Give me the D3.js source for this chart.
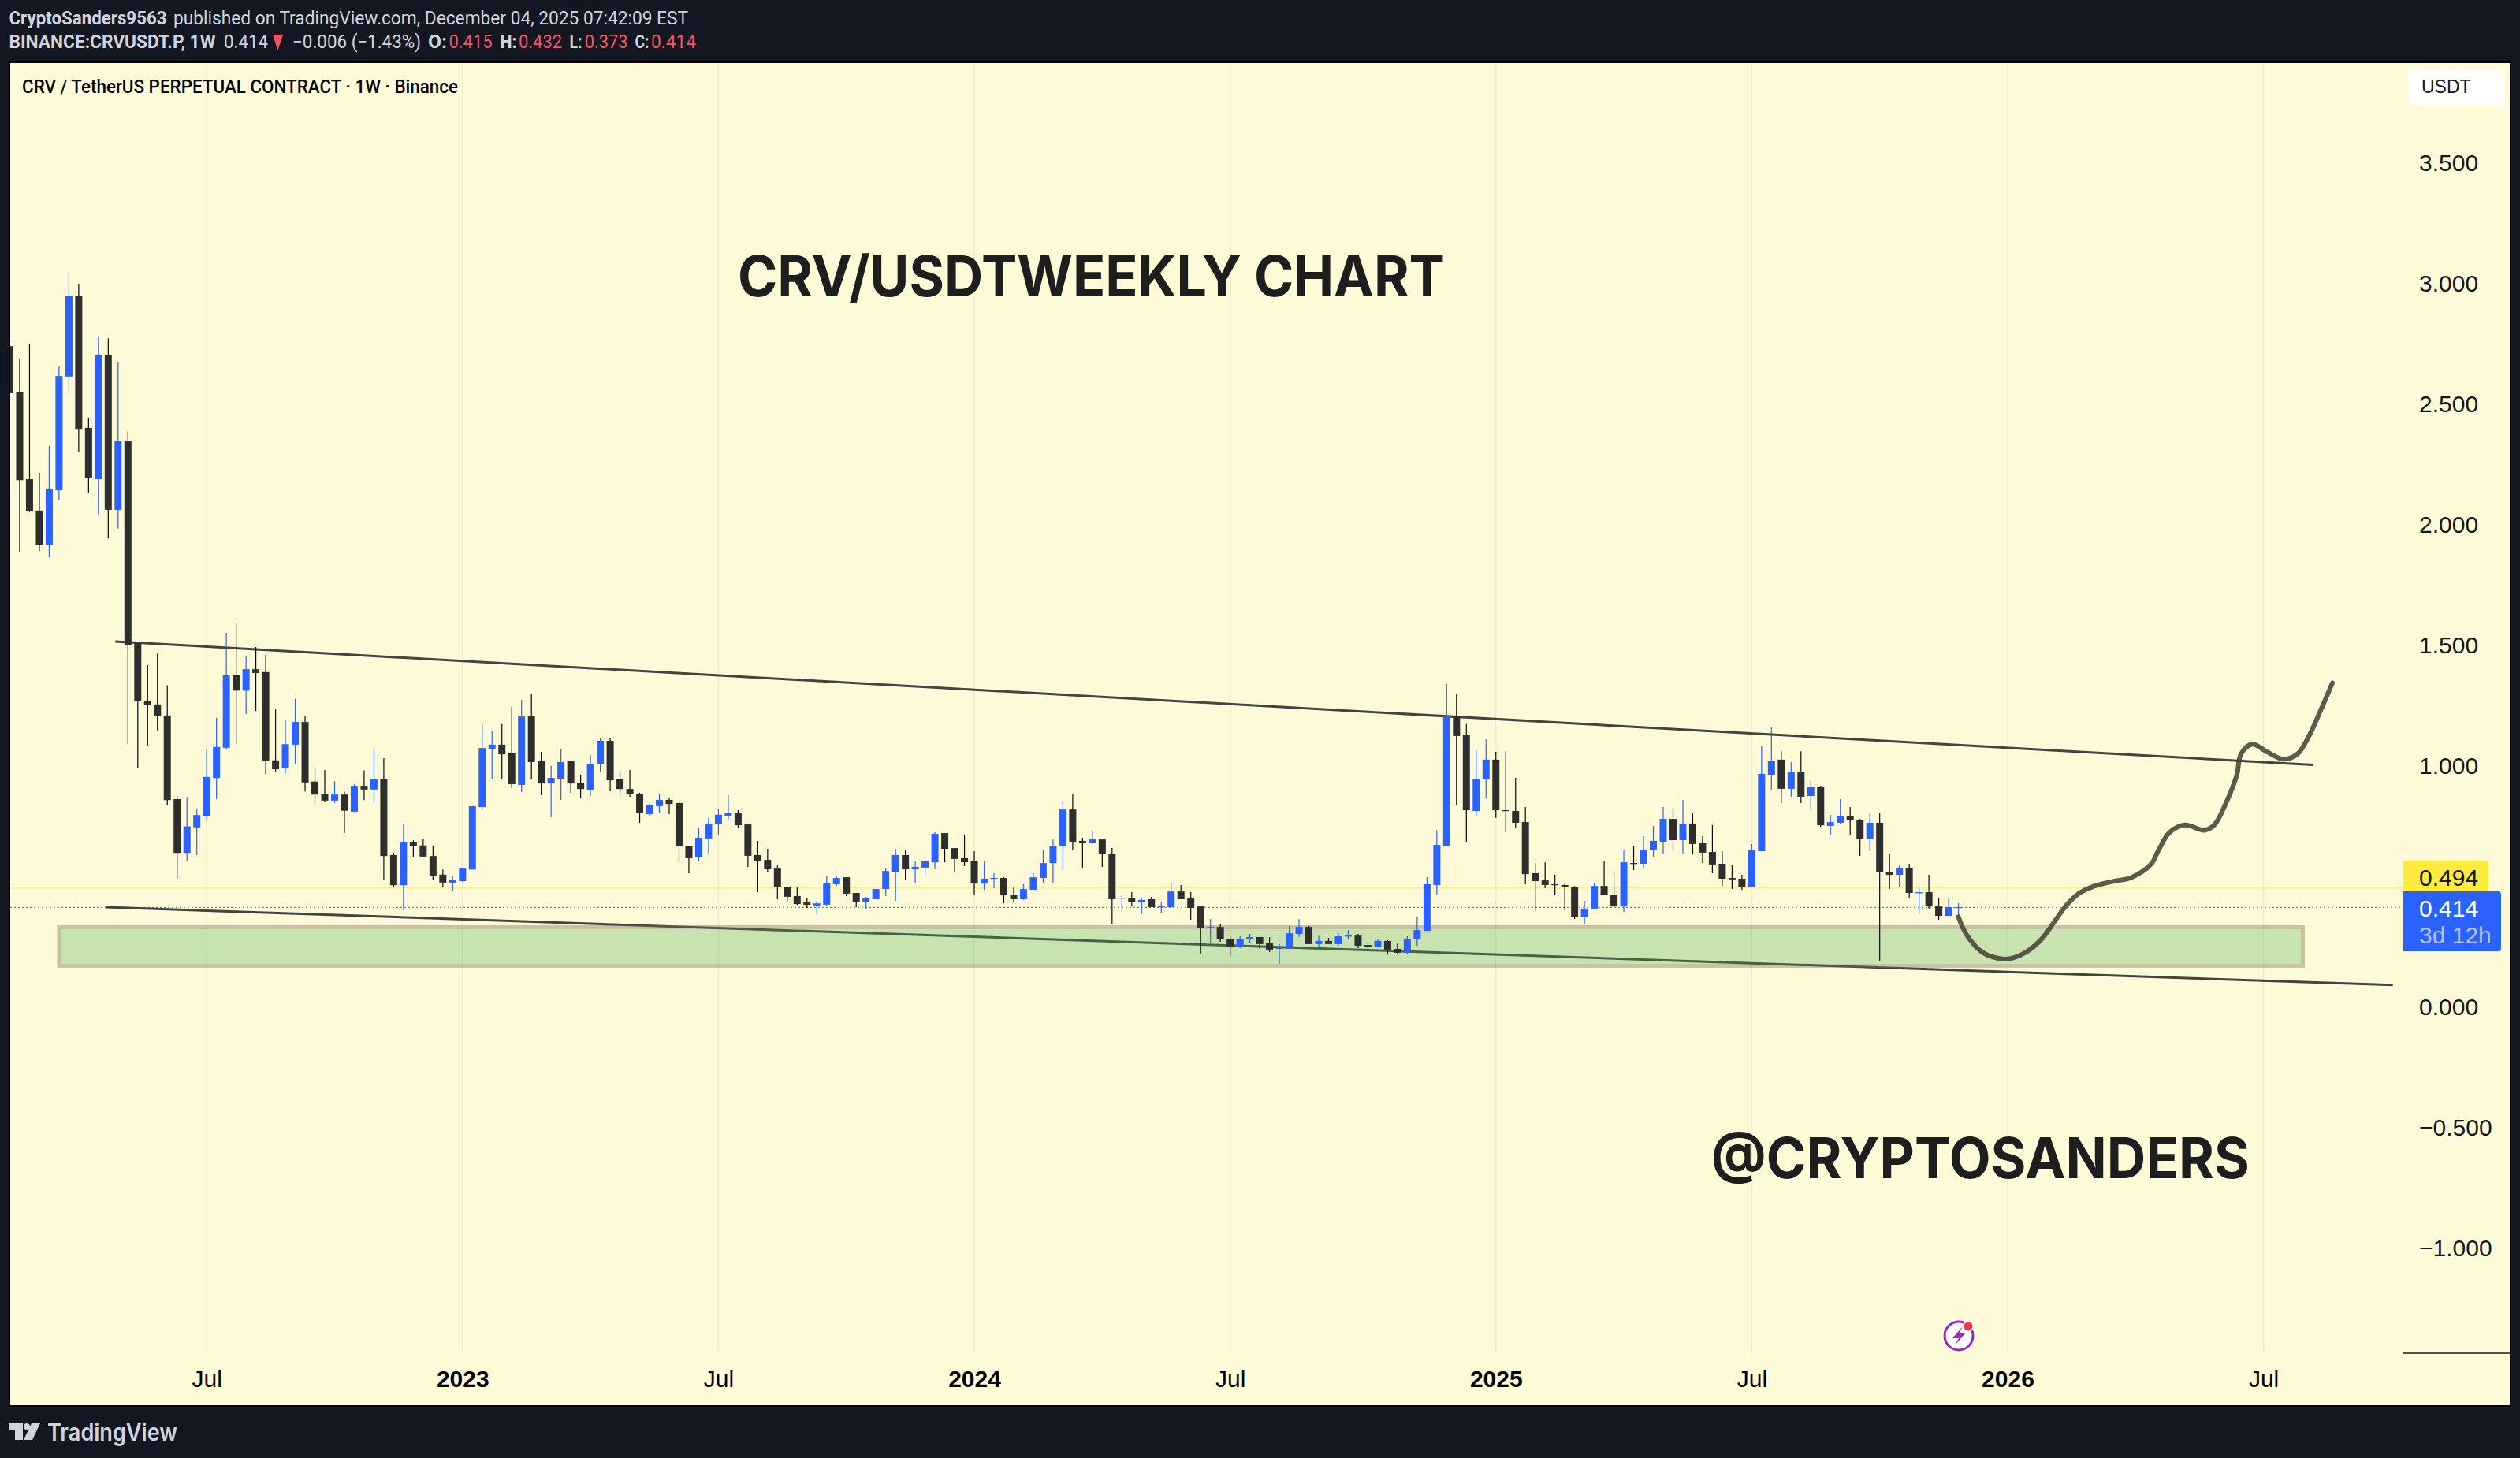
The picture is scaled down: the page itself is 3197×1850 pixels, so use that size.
<!DOCTYPE html>
<html>
<head>
<meta charset="utf-8">
<script src="https://cdn.jsdelivr.net/npm/d3@7"></script>
<style>
html, body { margin: 0; padding: 0; background: #131722; }
svg { display: block; }
text { font-family: "Liberation Sans", Arial, sans-serif; }
</style>
</head>
<body>
<div id="chart-area"></div>
<script>
// weekly candles, first bar is the week of 2022-02-14
var firstWeek = "2022-02-14"

var opens = [
	2.742,2.551,2.190,2.060,1.916,2.144,2.616,2.951,2.403,2.190,
	2.704,2.063,2.347,1.511,1.271,1.256,1.210,.863,.640,.746,
	.792,.951,1.076,1.377,1.313,1.402,1.390,1.024,.991,1.089,
	1.183,.936,.886,.857,.882,.811,.918,.903,.947,.631,
	.506,.686,.671,.627,.550,.517,.523,.571,.830,1.072,
	1.089,1.053,.922,1.206,1.020,.928,.948,1.020,.932,.902,
	1.007,1.105,.945,.905,.886,.801,.834,.860,.847,.670,
	.621,.700,.758,.794,.807,.758,.631,.611,.575,.500,
	.461,.435,.422,.425,.510,.539,.474,.438,.448,.490,
	.562,.631,.572,.579,.601,.722,.660,.618,.605,.513,
	.533,.536,.467,.448,.487,.536,.598,.667,.820,.690,
	.680,.696,.637,.451,.451,.435,.448,.415,.415,.480,
	.451,.418,.327,.333,.284,.252,.281,.291,.265,.242,
	.242,.304,.333,.262,.275,.262,.294,.297,.258,.252,
	.275,.242,.226,.281,.317,.507,.670,1.206,1.131,.814,
	.945,1.027,.817,.814,.768,.556,.526,.510,.507,.500,
	.373,.409,.503,.467,.418,.598,.595,.651,.686,.781,
	.693,.762,.680,.644,.595,.536,.533,.497,.647,.964,
	1.027,.906,.974,.876,.912,.752,.765,.791,.778,.699,
	.765,.562,.549,.579,.474,.477,.418,.379,.412]

var highs = [
	2.742,2.691,2.752,2.217,2.328,2.658,3.053,3.001,2.445,2.783,
	2.775,2.677,2.389,1.511,1.419,1.467,1.335,.876,.872,.824,
	1.072,1.200,1.553,1.590,1.455,1.494,1.461,1.239,1.191,1.279,
	1.206,.991,.983,.937,.893,.924,.982,1.070,1.033,.640,
	.759,.692,.696,.671,.571,.542,.575,.834,1.174,1.147,
	1.174,1.245,1.275,1.301,1.059,1.000,1.069,1.023,.964,1.046,
	1.115,1.115,.977,.984,.889,.843,.886,.866,.850,.670,
	.742,.785,.824,.879,.817,.762,.690,.657,.588,.500,
	.500,.451,.441,.543,.546,.539,.474,.458,.490,.578,
	.657,.650,.608,.614,.726,.722,.660,.713,.647,.605,
	.556,.539,.500,.510,.556,.650,.696,.850,.883,.703,
	.729,.696,.660,.464,.477,.451,.458,.438,.516,.507,
	.477,.422,.366,.346,.294,.294,.304,.291,.291,.262,
	.337,.366,.337,.297,.288,.307,.320,.304,.268,.284,
	.278,.268,.294,.376,.539,.735,1.340,1.301,1.174,1.066,
	1.111,1.059,1.062,.951,.830,.598,.601,.549,.516,.503,
	.441,.516,.608,.559,.654,.667,.709,.752,.830,.827,
	.860,.807,.709,.755,.647,.592,.549,.677,1.082,1.164,
	1.062,1.017,1.062,.941,.919,.798,.863,.830,.781,.804,
	.807,.637,.588,.595,.503,.549,.451,.451,.432]

var lows = [
	2.547,1.889,2.054,1.893,1.866,2.102,2.541,2.305,2.134,2.042,
	1.944,1.985,1.091,.993,1.085,1.145,.840,.533,.606,.631,
	.774,.863,1.072,1.091,1.216,1.229,.968,.974,.970,1.010,
	.895,.838,.853,.847,.723,.809,.859,.849,.527,.500,
	.402,.621,.621,.529,.500,.483,.519,.571,.824,.948,
	.945,.909,.892,.948,.879,.788,.860,.889,.869,.876,
	.977,.896,.876,.873,.765,.794,.807,.801,.601,.556,
	.608,.634,.713,.775,.742,.582,.477,.562,.448,.438,
	.425,.412,.386,.422,.503,.461,.415,.409,.448,.461,
	.441,.529,.513,.543,.572,.601,.562,.585,.467,.487,
	.494,.431,.435,.445,.487,.513,.513,.569,.654,.575,
	.677,.582,.343,.395,.418,.386,.415,.392,.415,.448,
	.363,.219,.265,.271,.209,.245,.268,.242,.229,.180,
	.242,.291,.262,.248,.262,.255,.284,.245,.242,.248,
	.222,.219,.219,.255,.317,.467,.670,.840,.686,.794,
	.866,.785,.726,.745,.510,.399,.494,.467,.402,.366,
	.346,.409,.464,.415,.395,.569,.575,.621,.637,.647,
	.634,.637,.598,.556,.503,.490,.487,.497,.647,.902,
	.847,.873,.847,.817,.749,.716,.758,.713,.628,.654,
	.190,.490,.500,.454,.386,.409,.363,.379,.373]

var closes = [
	2.547,2.186,2.056,1.916,2.148,2.618,2.951,2.399,2.194,2.704,
	2.063,2.347,1.503,1.269,1.252,1.206,.859,.640,.750,.797,
	.955,1.079,1.377,1.313,1.402,1.386,1.020,.987,1.091,1.183,
	.932,.882,.857,.882,.815,.918,.903,.947,.627,.506,
	.686,.667,.625,.546,.517,.527,.575,.834,1.075,1.089,
	1.049,.925,1.206,1.017,.928,.951,1.017,.928,.905,1.010,
	1.105,.941,.905,.883,.804,.837,.860,.843,.667,.618,
	.703,.762,.798,.807,.755,.628,.608,.572,.497,.458,
	.428,.425,.431,.513,.536,.471,.435,.451,.490,.565,
	.631,.572,.582,.605,.719,.657,.615,.601,.513,.533,
	.536,.464,.448,.490,.539,.598,.670,.820,.686,.680,
	.696,.634,.448,.454,.435,.445,.415,.418,.480,.448,
	.412,.327,.333,.281,.252,.284,.291,.262,.239,.248,
	.307,.333,.262,.275,.262,.294,.297,.255,.252,.275,
	.239,.226,.284,.320,.510,.673,1.206,1.125,.817,.948,
	1.027,.817,.814,.765,.552,.523,.507,.507,.497,.373,
	.409,.503,.464,.418,.601,.595,.654,.690,.781,.693,
	.762,.677,.641,.592,.533,.530,.497,.651,.968,1.023,
	.906,.974,.873,.912,.755,.768,.791,.775,.699,.765,
	.559,.549,.579,.474,.477,.418,.379,.415,.415]

var priceTicks = [3.5, 3, 2.5, 2, 1.5, 1, 0, -0.5, -1]
var timeTicks = ["2022-07-04","2023-01-02","2023-07-03","2024-01-01","2024-07-01","2025-01-06","2025-07-07","2026-01-05","2026-07-06"]
var timeLabels = ["Jul","2023","Jul","2024","Jul","2025","Jul","2026","Jul"]

var lastPrice = 0.414
var levelPrice = 0.494

// drawings on the chart
var upperDates = ["2022-04-30", "2026-08-10"]
var upperPrices = [1.517, 1.005]
var lowerDates = ["2022-04-23", "2026-10-06"]
var lowerPrices = [0.415, 0.092]
var boxDates = ["2022-03-21", "2026-08-03"]
var boxPrices = [0.332, 0.172]

// hand drawn projection, days counted from 2026-01-05
var sketchDays = [-35,-32,-27,-18,-9,0,13,25,33,42,51,62,75,88,102,107,115,126,140,147,155,163,166,174,184,196,206,214,223,231]
var sketchPrices = [.375,.331,.282,.228,.206,.200,.228,.288,.353,.424,.473,.503,.522,.538,.593,.647,.724,.756,.734,.756,.843,.963,1.050,1.091,1.061,1.029,1.050,1.121,1.236,1.345]

var canvasWidth = 3197
var canvasHeight = 1850
var plot = {left: 13, right: 3184, top: 80, bottom: 1783, axisX: 3048, axisY: 1717}

var bg = "#fefad8"
var blue = "#2962ff"
var bodyDark = "#2e2e2e"
var wickDark = "#0a0a0a"

var parseDate = d3.utcParse("%Y-%m-%d")

var x = d3.scaleUtc()
	.domain([parseDate("2023-01-02"), parseDate("2026-07-06")])
	.range([586.8, 2871.6])

var y = d3.scaleLinear()
	.domain([0, 3.5])
	.range([1278, 207.35])

var candles = opens.map(function(o, i) {
	return {
		date: d3.utcDay.offset(parseDate(firstWeek), i * 7),
		open: o,
		high: highs[i],
		low: lows[i],
		close: closes[i]
	}
})

var svg = d3.select("#chart-area")
	.append("svg")
	.attr("width", canvasWidth)
	.attr("height", canvasHeight)

svg.append("rect").attr("width", canvasWidth).attr("height", canvasHeight).attr("fill", "#131722")

// black frame and chart background
svg.append("rect")
	.attr("x", plot.left - 2).attr("y", plot.top - 2)
	.attr("width", plot.right - plot.left + 4).attr("height", plot.bottom - plot.top + 4)
	.attr("fill", "#000")
svg.append("rect")
	.attr("x", plot.left).attr("y", plot.top)
	.attr("width", plot.right - plot.left).attr("height", plot.bottom - plot.top)
	.attr("fill", bg)

svg.append("clipPath").attr("id", "pane")
	.append("rect")
	.attr("x", plot.left).attr("y", plot.top)
	.attr("width", plot.axisX - plot.left).attr("height", plot.axisY - plot.top)

var pane = svg.append("g").attr("clip-path", "url(#pane)")

// vertical grid
pane.selectAll(".grid")
	.data(timeTicks)
	.enter().append("line")
		.attr("class", "grid")
		.attr("x1", function(d) { return x(parseDate(d)) })
		.attr("x2", function(d) { return x(parseDate(d)) })
		.attr("y1", plot.top)
		.attr("y2", plot.axisY)
		.attr("stroke", "#2a2e39")
		.attr("stroke-opacity", 0.08)
		.attr("stroke-width", 1.5)

// 0.494 level and last price line
pane.append("line")
	.attr("x1", plot.left).attr("x2", plot.axisX)
	.attr("y1", y(levelPrice)).attr("y2", y(levelPrice))
	.attr("stroke", "#ffe94a")
	.attr("stroke-width", 1)
pane.append("line")
	.attr("x1", plot.left).attr("x2", plot.axisX)
	.attr("y1", y(lastPrice)).attr("y2", y(lastPrice))
	.attr("stroke", blue)
	.attr("stroke-width", 1)
	.attr("stroke-dasharray", "2,3")

// trend lines sit under the box
var trend = d3.line()
	.x(function(d) { return x(parseDate(d[0])) })
	.y(function(d) { return y(d[1]) })

pane.append("path")
	.attr("d", trend(d3.zip(upperDates, upperPrices)))
	.attr("fill", "none").attr("stroke", "#434343").attr("stroke-width", 3)
pane.append("path")
	.attr("d", trend(d3.zip(lowerDates, lowerPrices)))
	.attr("fill", "none").attr("stroke", "#434343").attr("stroke-width", 3)

// green box, the fill stops inside the tan border
var boxX = x(parseDate(boxDates[0]))
var boxW = x(parseDate(boxDates[1])) - boxX
var boxY = y(boxPrices[0])
var boxH = y(boxPrices[1]) - boxY

pane.append("rect")
	.attr("x", boxX + 2.5).attr("y", boxY + 2.5)
	.attr("width", boxW - 5).attr("height", boxH - 5)
	.attr("fill", "#4caf50")
	.attr("fill-opacity", 0.3)
pane.append("rect")
	.attr("x", boxX).attr("y", boxY)
	.attr("width", boxW).attr("height", boxH)
	.attr("fill", "none")
	.attr("stroke", "#776e56")
	.attr("stroke-opacity", 0.4)
	.attr("stroke-width", 5)

// candles
var bars = pane.append("g").attr("class", "candles")

bars.selectAll(".wick")
	.data(candles)
	.enter().append("line")
		.attr("class", "wick")
		.attr("x1", function(d) { return x(d.date) })
		.attr("x2", function(d) { return x(d.date) })
		.attr("y1", function(d) { return y(d.high) })
		.attr("y2", function(d) { return y(d.low) })
		.attr("stroke", function(d) { return d.close >= d.open ? blue : wickDark })
		.attr("stroke-width", 1.2)

bars.selectAll(".body")
	.data(candles)
	.enter().append("rect")
		.attr("class", "body")
		.attr("x", function(d) { return x(d.date) - 4.5 })
		.attr("width", 9)
		.attr("y", function(d) { return y(Math.max(d.open, d.close)) })
		.attr("height", function(d) { return Math.max(1.2, Math.abs(y(d.open) - y(d.close))) })
		.attr("fill", function(d) { return d.close >= d.open ? blue : bodyDark })

// projection drawn with the brush
var sketch = d3.line()
	.x(function(d) { return x(d3.utcDay.offset(parseDate("2026-01-05"), d[0])) })
	.y(function(d) { return y(d[1]) })
	.curve(d3.curveCatmullRom)

pane.append("path")
	.attr("d", sketch(d3.zip(sketchDays, sketchPrices)))
	.attr("fill", "none")
	.attr("stroke", "#3f3e30")
	.attr("stroke-opacity", 0.85)
	.attr("stroke-width", 6)
	.attr("stroke-linecap", "round")

// axes
var xAxis = d3.axisBottom(x)
	.tickValues(timeTicks.map(parseDate))
	.tickFormat(function(d, i) { return timeLabels[i] })
	.tickSize(0)
	.tickPadding(0)

var gx = svg.append("g")
	.attr("transform", "translate(0," + 1749.5 + ")")
	.call(xAxis)
gx.select(".domain").remove()
gx.selectAll("text")
	.attr("y", 0)
	.attr("dy", "0.35em")
	.style("font-family", "'Liberation Sans', sans-serif")
	.style("font-size", "30px")
	.style("font-weight", function(d, i) { return timeLabels[i] == "Jul" ? "normal" : "bold" })
	.attr("fill", "#000")

var yAxis = d3.axisRight(y)
	.tickValues(priceTicks)
	.tickFormat(function(d) { return d3.format(".3f")(d).replace("-", "\u2212") })
	.tickSize(0)
	.tickPadding(21)

var gy = svg.append("g")
	.attr("transform", "translate(" + plot.axisX + ",0)")
	.call(yAxis)
gy.select(".domain").remove()
gy.selectAll("text")
	.attr("dy", "0.32em")
	.style("font-family", "'Liberation Sans', sans-serif")
	.style("font-size", "30px")
	.attr("fill", "#131722")

svg.append("line")
	.attr("x1", plot.axisX).attr("x2", plot.right)
	.attr("y1", plot.axisY).attr("y2", plot.axisY)
	.attr("stroke", "#131722").attr("stroke-width", 1.5)

// price tags on the axis
svg.append("path")
	.attr("d", "M3049,1092H3153q4,0 4,4V1132H3049Z")
	.attr("fill", "#ffeb3b")
svg.append("text")
	.attr("x", 3069).attr("y", 1113).attr("dy", "0.35em")
	.attr("font-size", 30).attr("fill", "#131722")
	.text(d3.format(".3f")(levelPrice))
svg.append("path")
	.attr("d", "M3049,1131H3169q4,0 4,4V1203q0,4 -4,4H3049Z")
	.attr("fill", blue)
svg.append("text")
	.attr("x", 3069).attr("y", 1152).attr("dy", "0.35em")
	.attr("font-size", 30).attr("fill", "#fff")
	.text(d3.format(".3f")(lastPrice))
svg.append("text")
	.attr("x", 3069).attr("y", 1186).attr("dy", "0.35em")
	.attr("font-size", 30).attr("fill", "#fff").attr("fill-opacity", 0.65)
	.text("3d 12h")

// currency box
svg.append("rect")
	.attr("x", 3055).attr("y", 87).attr("width", 123).attr("height", 46).attr("rx", 6)
	.attr("fill", "#fff")
svg.append("text")
	.attr("x", 3072).attr("y", 110).attr("dy", "0.35em")
	.attr("font-size", 23).attr("fill", "#131722")
	.text("USDT")

// title texts
svg.append("text")
	.attr("x", 936).attr("y", 351).attr("dy", "0.35em")
	.attr("textLength", 897)
	.attr("lengthAdjust", "spacingAndGlyphs")
	.style("font-family", "Inter, sans-serif")
	.style("font-weight", 700).style("font-size", "72px")
	.attr("fill", "#1e1e1e")
	.text("CRV/USDTWEEKLY CHART")
svg.append("text")
	.attr("x", 2171).attr("y", 1470).attr("dy", "0.35em")
	.attr("textLength", 683)
	.attr("lengthAdjust", "spacingAndGlyphs")
	.style("font-family", "Inter, sans-serif")
	.style("font-weight", 700).style("font-size", "72px")
	.attr("fill", "#1e1e1e")
	.text("@CRYPTOSANDERS")

svg.append("text")
	.attr("x", 28).attr("y", 110).attr("dy", "0.35em")
	.attr("textLength", 553)
	.attr("lengthAdjust", "spacingAndGlyphs")
	.style("font-family", "Roboto, sans-serif")
	.style("font-weight", 500).style("font-size", "23px")
	.attr("fill", "#000")
	.text("CRV / TetherUS PERPETUAL CONTRACT \u00b7 1W \u00b7 Binance")

// header rows
var head1Texts = ["CryptoSanders9563", "published on TradingView.com, December 04, 2025 07:42:09 EST"]
var head1X = [11.5, 220]
var head1W = [200, 653]

svg.selectAll(".head1")
	.data(head1Texts)
	.enter().append("text")
		.attr("class", "head1")
		.attr("x", function(d, i) { return head1X[i] })
		.attr("y", 23)
		.attr("dy", "0.35em")
		.attr("textLength", function(d, i) { return head1W[i] })
		.attr("lengthAdjust", "spacingAndGlyphs")
		.style("font-family", "Roboto, sans-serif")
		.style("font-size", "23px")
		.style("font-weight", function(d, i) { return i == 0 ? "bold" : "normal" })
		.attr("fill", "#d1d4dc")
		.text(function(d) { return d })

var headTexts = ["BINANCE:CRVUSDT.P, 1W", "0.414", "\u22120.006 (\u22121.43%)", "O:", "0.415", "H:", "0.432", "L:", "0.373", "C:", "0.414"]
var headX = [11.5, 284, 371, 543, 569.5, 634.5, 658, 722.6, 741.7, 805.5, 826]
var headW = [262, 56, 163, 24, 55, 21, 55, 16, 55, 18, 57]
var headRed = [false, false, false, false, true, false, true, false, true, false, true]
var headBold = [true, false, false, true, false, true, false, true, false, true, false]

svg.selectAll(".head2")
	.data(headTexts)
	.enter().append("text")
		.attr("class", "head2")
		.attr("x", function(d, i) { return headX[i] })
		.attr("y", 53)
		.attr("dy", "0.35em")
		.attr("textLength", function(d, i) { return headW[i] })
		.attr("lengthAdjust", "spacingAndGlyphs")
		.style("font-family", "Roboto, sans-serif")
		.style("font-size", "23px")
		.style("font-weight", function(d, i) { return headBold[i] ? "bold" : "normal" })
		.attr("fill", function(d, i) { return headRed[i] ? "#f7525f" : "#d1d4dc" })
		.text(function(d) { return d })

svg.append("path").attr("d", "M346,44H359L352.5,64Z").attr("fill", "#f7525f")

// tradingview mark
var logo = svg.append("g").attr("fill", "#d1d4dc")
logo.append("path").attr("d", "M11,1806H29V1827H19V1814H11Z")
logo.append("circle").attr("cx", 34).attr("cy", 1810).attr("r", 4)
logo.append("path").attr("d", "M40,1806H51L41,1827H30Z")
svg.append("text")
	.attr("x", 60).attr("y", 1817).attr("dy", "0.35em")
	.attr("textLength", 165)
	.attr("lengthAdjust", "spacingAndGlyphs")
	.style("font-family", "Inter, sans-serif")
	.style("font-weight", 600).style("font-size", "30px")
	.attr("fill", "#d1d4dc")
	.text("TradingView")

// lightning badge
var badge = svg.append("g").attr("transform", "translate(2485,1695)")
badge.append("circle").attr("r", 21).attr("fill", "#fff")
badge.append("circle").attr("r", 18).attr("fill", "none").attr("stroke", "#9c27b0").attr("stroke-width", 3)
badge.append("path").attr("d", "M5,-12L-8,3H0L-5,12L8,-3H0Z").attr("fill", "#9c27b0")
badge.append("circle").attr("cx", 12).attr("cy", -12).attr("r", 7).attr("fill", "#fff")
badge.append("circle").attr("cx", 12).attr("cy", -12).attr("r", 5.5).attr("fill", "#f23645")
</script>
</body>
</html>
